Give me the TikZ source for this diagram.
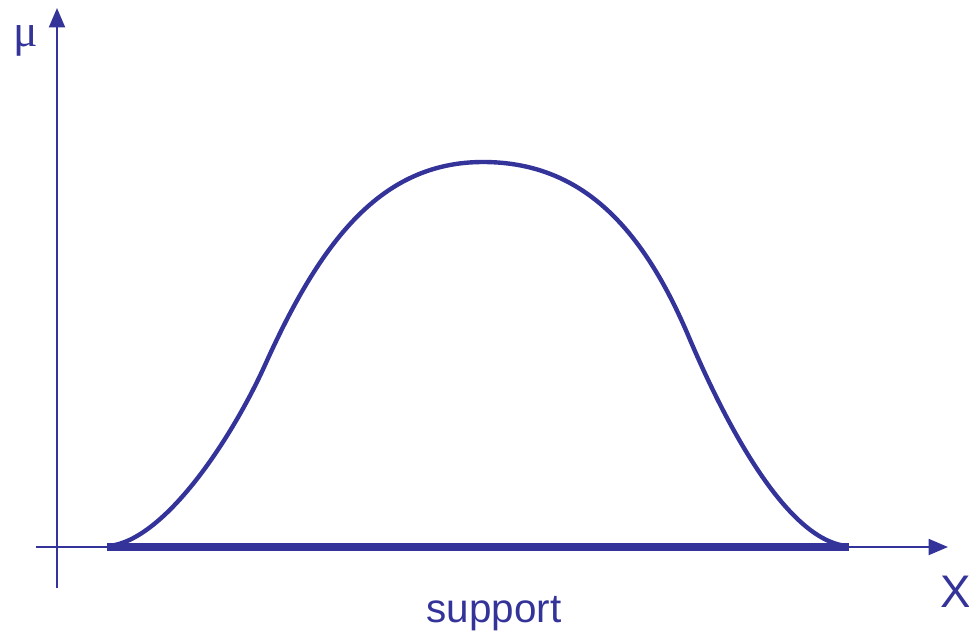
\documentclass[tikz,border=0pt]{standalone}
\usepackage{fontspec}
\setmainfont{Liberation Sans}
\newfontfamily\greekfont{Liberation Serif}
\usetikzlibrary{positioning, arrows.meta}
\definecolor{indigo}{HTML}{333399}

\tikzset{
  axis/.style={indigo, line width=1.4pt, -{Triangle[length=11pt, width=9pt]}},
  bell/.style={indigo, line width=2.5pt, line join=round},
  supportbar/.style={indigo, line width=5pt},
  label/.style={indigo, font=\fontsize{23}{26}\selectfont, inner sep=0pt}
}

\begin{document}
\begin{tikzpicture}[x=0.02cm, y=-0.02cm]
    \useasboundingbox (0,0) rectangle (969,633);
    % Achsen
    \coordinate (ybot) at (57,588);
    \coordinate (ytop) at (57,8);
    \coordinate (xleft) at (36,547);
    \coordinate (xright) at (948,547);
    \draw[axis] (ybot) -- (ytop);
    \draw[axis] (xleft) -- (xright);
    \node[label, font=\greekfont\fontsize{26}{28}\selectfont] (mu) at (26,41) {μ};
    \node[label, font=\fontsize{26}{28}\selectfont] (xlab) at (956,592) {X};
    % Traeger
    \coordinate (sleft) at (107,547);
    \coordinate (sright) at (849,547);
    \draw[supportbar] (sleft) -- (sright);
    \node[label, anchor=base] (support) at (494,622) {support};
    % Zugehoerigkeitsfunktion
    \coordinate (peak) at (483,162);
    \draw[bell] (109,546)
      .. controls (165,540) and (232,438) .. (265,365)
      .. controls (320,243) and (380,162) .. (peak)
      .. controls (580,162) and (641,225) .. (688,335)
      .. controls (723,418) and (785,540) .. (847,546);
\end{tikzpicture}
\end{document}
